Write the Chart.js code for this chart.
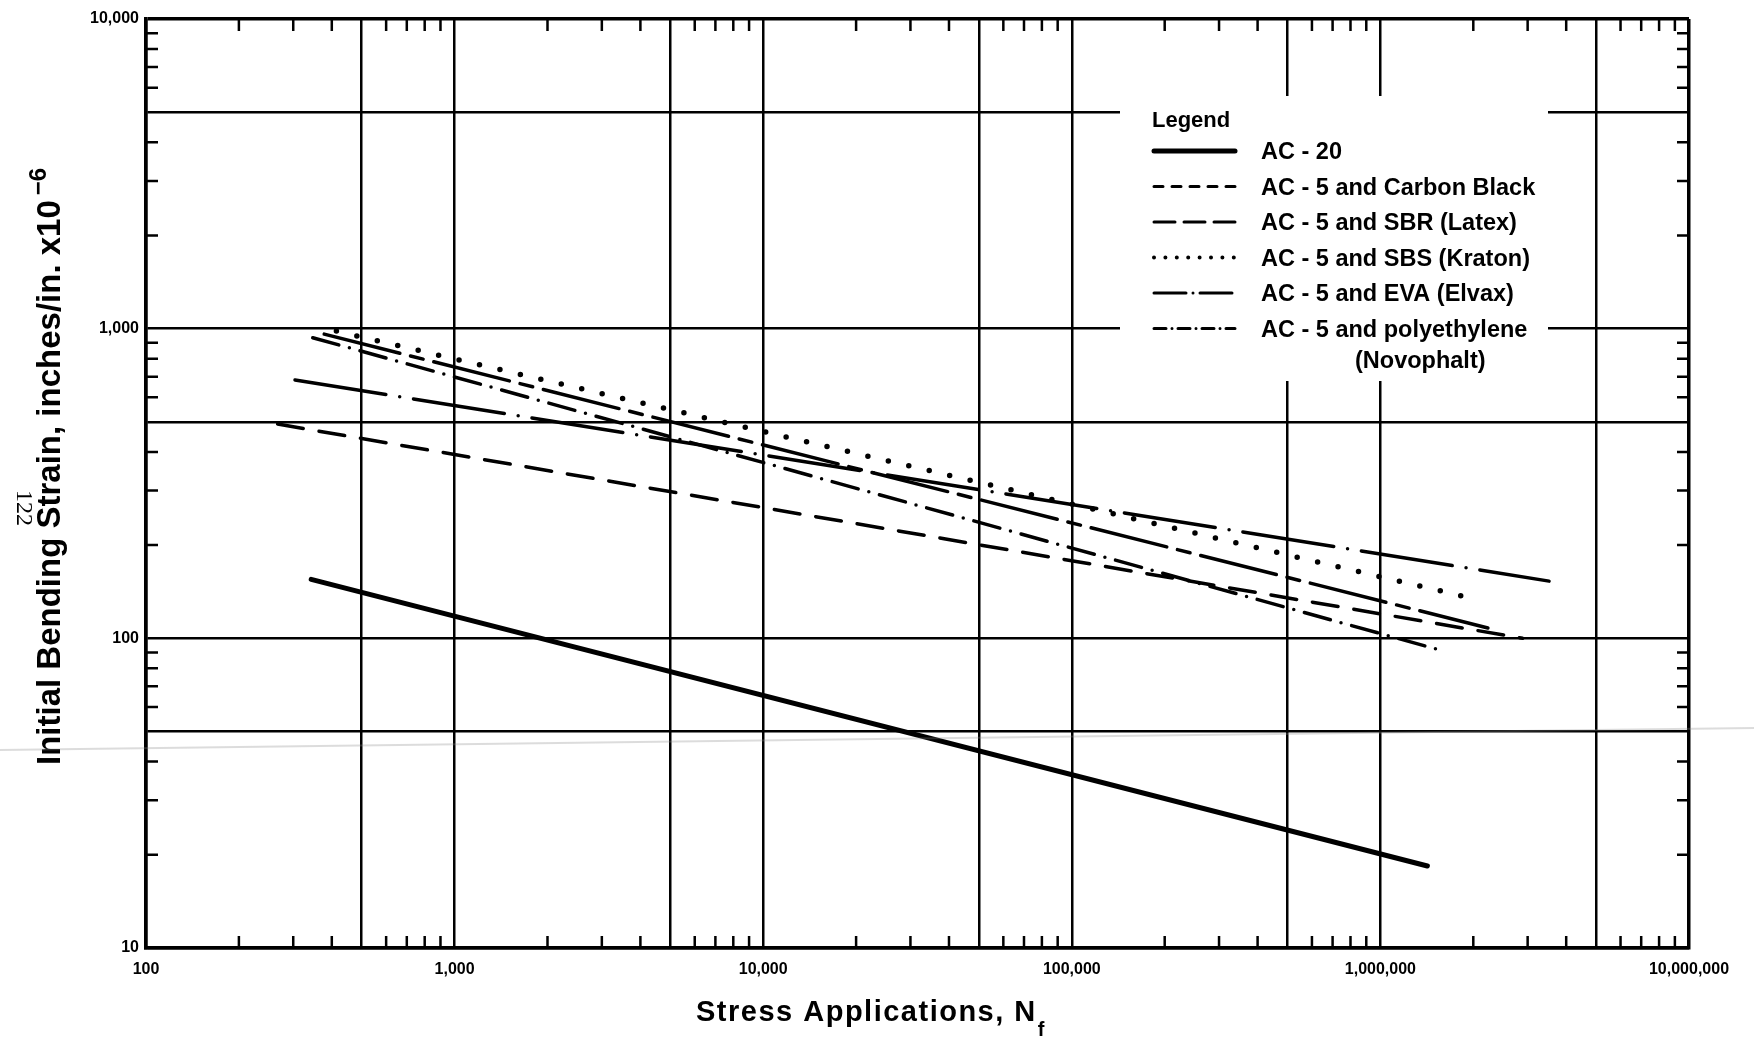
<!DOCTYPE html>
<html lang="en">
<head>
<meta charset="UTF-8">
<title>Initial Bending Strain vs Stress Applications</title>
<script src="https://cdn.jsdelivr.net/npm/chart.js@4.4.0/dist/chart.umd.min.js"></script>
<style>
  body { margin: 0; background: #fff; }
  canvas { display: block; }
</style>
</head>
<body>
<canvas id="grafico" width="1754" height="1040"></canvas>
<script>
// end points of each fatigue line: cycles to failure and initial strain (in/in x10^-6)
const ac20Cycles = [343, 1420000];
const ac20Strain = [155, 18.4];
const carbonCycles = [267, 2890000];
const carbonStrain = [492, 100];
const sbrCycles = [378, 2230000];
const sbrStrain = [960, 108];
const sbsCycles = [414, 2090000];
const sbsStrain = [982, 133];
const evaCycles = [304, 3520000];
const evaStrain = [683, 153];
const polyCycles = [347, 1600000];
const polyStrain = [935, 91];

const xTickLabels = ["100", "1,000", "10,000", "100,000", "1,000,000", "10,000,000"];
const yTickLabels = ["10", "100", "1,000", "10,000"];

const fonteTicks = { family: "Liberation Sans", weight: "bold", size: 16 };

function pontos(cycles, strain) {
  return cycles.map((n, i) => ({ x: n, y: strain[i] }));
}

// 1..9 x 10^k between min and max
function logTicks(min, max) {
  const ticks = [];
  for (let d = min; d < max; d *= 10) {
    for (let m = 1; m < 10; m++) ticks.push({ value: d * m });
  }
  ticks.push({ value: max });
  return ticks;
}

function mantissa(v) {
  return Math.round(v / Math.pow(10, Math.floor(Math.log10(v) + 1e-9)));
}

function larguraGrade(tick, min, max) {
  if (!tick) return 0;
  if (tick.value === min || tick.value === max) return 3.5;
  const m = mantissa(tick.value);
  return m === 1 || m === 5 ? 2.5 : 0;
}

// short inward ticks on all four sides + legend + titles
const extras = {
  id: "extras",
  beforeDatasetsDraw(chart) {
    const c = chart.ctx;
    const a = chart.chartArea;
    const sx = chart.scales.x;
    const sy = chart.scales.y;
    c.save();
    c.strokeStyle = "#000";
    c.lineWidth = 2.5;
    c.beginPath();
    sx.ticks.forEach((t) => {
      const m = mantissa(t.value);
      if (m === 1 || m === 5) return;
      const px = sx.getPixelForValue(t.value);
      c.moveTo(px, a.top);
      c.lineTo(px, a.top + 12);
      c.moveTo(px, a.bottom);
      c.lineTo(px, a.bottom - 12);
    });
    sy.ticks.forEach((t) => {
      const m = mantissa(t.value);
      if (m === 1 || m === 5) return;
      const py = sy.getPixelForValue(t.value);
      c.moveTo(a.left, py);
      c.lineTo(a.left + 12, py);
      c.moveTo(a.right, py);
      c.lineTo(a.right - 12, py);
    });
    c.stroke();
    c.restore();
  },
  afterDraw(chart) {
    const c = chart.ctx;
    c.save();

    // legend box sits over the grid
    c.fillStyle = "#fff";
    c.fillRect(1120, 96, 428, 285);
    c.fillStyle = "#000";
    c.strokeStyle = "#000";
    c.textBaseline = "middle";
    c.font = 'bold 22px "Liberation Sans"';
    c.fillText("Legend", 1152, 121);
    let y = 153;
    chart.data.datasets.forEach((ds) => {
      c.beginPath();
      c.setLineDash(ds.legendDash);
      c.lineWidth = ds.legendWidth;
      c.lineCap = ds.borderCapStyle;
      c.moveTo(1154, y - 2);
      c.lineTo(1235, y - 2);
      c.stroke();
      const linhas = ds.label.split("\n");
      c.font = 'bold 23.5px "Liberation Sans"';
      c.fillText(linhas[0], 1261, y);
      if (linhas[1]) c.fillText(linhas[1], 1355, y + 31);
      y += 35.5;
    });
    c.setLineDash([]);

    // x axis title
    c.textBaseline = "alphabetic";
    c.font = 'bold 29px "Liberation Sans"';
    c.letterSpacing = "1.5px";
    const tx = "Stress Applications, N";
    c.fillText(tx, 696, 1021);
    const wx = c.measureText(tx).width;
    c.font = 'bold 20px "Liberation Sans"';
    c.fillText("f", 696 + wx + 1, 1036);
    c.letterSpacing = "0px";

    // y axis title
    c.save();
    c.translate(60, 765);
    c.rotate(-Math.PI / 2);
    c.font = 'bold 33px "Liberation Sans"';
    const ty = "Initial Bending Strain, inches/in. x10";
    c.fillText(ty, 0, 0);
    const wy = c.measureText(ty).width;
    c.font = 'bold 24px "Liberation Sans"';
    c.fillText("\u22126", wy + 5, -14);
    c.restore();

    // page number
    c.save();
    c.translate(23, 508);
    c.rotate(Math.PI / 2);
    c.textAlign = "center";
    c.textBaseline = "middle";
    c.font = '24px "Liberation Serif"';
    c.fillText("122", 0, 0);
    c.restore();

    // faint scanner streak
    c.strokeStyle = "rgba(140,140,140,0.3)";
    c.lineWidth = 2;
    c.beginPath();
    c.moveTo(0, 750);
    c.lineTo(1754, 728);
    c.stroke();

    c.restore();
  },
};

const ctx = document.getElementById("grafico");

new Chart(ctx, {
  type: "line",
  data: {
    datasets: [
      {
        label: "AC - 20",
        data: pontos(ac20Cycles, ac20Strain),
        borderWidth: 5,
        borderDash: [],
        borderCapStyle: "round",
        legendDash: [],
        legendWidth: 5,
      },
      {
        label: "AC - 5 and Carbon Black",
        data: pontos(carbonCycles, carbonStrain),
        borderWidth: 3.5,
        borderDash: [26, 16],
        borderCapStyle: "round",
        legendDash: [9, 9],
        legendWidth: 3,
      },
      {
        label: "AC - 5 and SBR (Latex)",
        data: pontos(sbrCycles, sbrStrain),
        borderWidth: 3.5,
        borderDash: [78, 11, 13, 11],
        borderCapStyle: "round",
        legendDash: [21, 9],
        legendWidth: 3,
      },
      {
        label: "AC - 5 and SBS (Kraton)",
        data: pontos(sbsCycles, sbsStrain),
        borderWidth: 5.5,
        borderDash: [0, 21],
        borderCapStyle: "round",
        legendDash: [0, 11.4],
        legendWidth: 4,
      },
      {
        label: "AC - 5 and EVA (Elvax)",
        data: pontos(evaCycles, evaStrain),
        borderWidth: 3.5,
        borderDash: [92, 14, 0, 14],
        borderCapStyle: "round",
        legendDash: [32, 7, 0, 7],
        legendWidth: 3,
      },
      {
        label: "AC - 5 and polyethylene\n(Novophalt)",
        data: pontos(polyCycles, polyStrain),
        borderWidth: 3.5,
        borderDash: [27, 11, 0, 11],
        borderCapStyle: "round",
        legendDash: [12, 6, 0, 6],
        legendWidth: 3,
      },
    ].map((ds) => ({
      ...ds,
      borderColor: "#000",
      backgroundColor: "#000",
      pointRadius: 0,
      fill: false,
      tension: 0,
    })),
  },
  options: {
    responsive: false,
    animation: false,
    layout: { padding: { top: 19, right: 65, bottom: 0, left: 0 } },
    plugins: {
      legend: { display: false },
      tooltip: { enabled: false },
    },
    scales: {
      x: {
        type: "logarithmic",
        min: 100,
        max: 10000000,
        afterBuildTicks: (s) => {
          s.ticks = logTicks(100, 10000000);
        },
        afterFit: (s) => {
          s.height = 92;
        },
        grid: {
          color: "#000",
          lineWidth: (c) => larguraGrade(c.tick, 100, 10000000),
          drawTicks: false,
        },
        border: { display: true, color: "#000", width: 3.5 },
        ticks: {
          autoSkip: false,
          maxRotation: 0,
          padding: 12,
          color: "#000",
          font: fonteTicks,
          callback: (v) => (mantissa(v) === 1 ? xTickLabels[Math.round(Math.log10(v)) - 2] : ""),
        },
      },
      y: {
        type: "logarithmic",
        min: 10,
        max: 10000,
        afterBuildTicks: (s) => {
          s.ticks = logTicks(10, 10000);
        },
        afterFit: (s) => {
          s.width = 146;
        },
        grid: {
          color: "#000",
          lineWidth: (c) => larguraGrade(c.tick, 10, 10000),
          drawTicks: false,
        },
        border: { display: true, color: "#000", width: 3.5 },
        ticks: {
          autoSkip: false,
          padding: 7,
          color: "#000",
          font: fonteTicks,
          callback: (v) => (mantissa(v) === 1 ? yTickLabels[Math.round(Math.log10(v)) - 1] : ""),
        },
      },
    },
  },
  plugins: [extras],
});
</script>
</body>
</html>
